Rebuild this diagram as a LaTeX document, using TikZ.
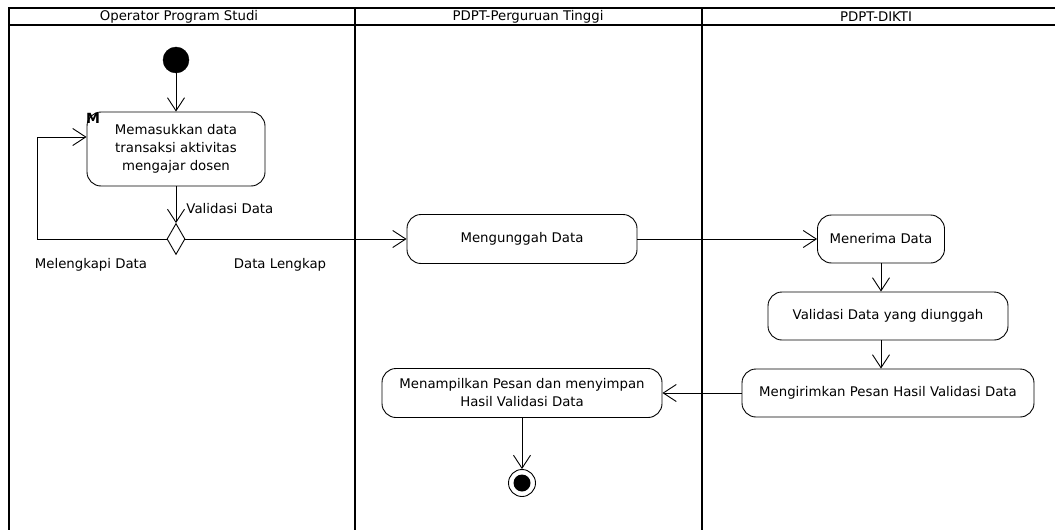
\documentclass[tikz,border=0pt]{standalone}
\usepackage{fontspec}
\setmainfont{DejaVu Sans}
\usetikzlibrary{shapes.geometric, arrows.meta, positioning}

\begin{document}
\begin{tikzpicture}[
  x=1pt, y=-1pt,
  act/.style={draw, rounded corners=14pt, align=center, inner sep=0pt, line width=0.9pt, font=\fontsize{13.3}{18}\selectfont},
  lbl/.style={inner sep=0pt, font=\fontsize{13.3}{15}\selectfont},
  flow/.style={-{Straight Barb[length=13pt, width=17pt]}, line width=0.9pt},
  lane/.style={line width=2.4pt}
]
  \useasboundingbox (0,0) rectangle (1055,530);

  % Swimlanes
  \draw[lane] (1055,8) -- (9,8) -- (9,530);
  \draw[lane] (9,25) -- (1055,25);
  \draw[lane] (355,8) -- (355,530);
  \draw[lane] (702,8) -- (702,530);
  \node[lbl] (prodi) at (179,16.5) {Operator Program Studi};
  \node[lbl] (pt) at (528,16.5) {PDPT-Perguruan Tinggi};
  \node[lbl] (dikti) at (876,16.5) {PDPT-DIKTI};

  % Operator Program Studi
  \node[draw, circle, fill=black, minimum size=26pt, inner sep=0pt] (start) at (176,60) {};
  \node[act, minimum width=178pt, minimum height=74pt] (input) at (176,149)
    {Memasukkan data\\transaksi aktivitas\\mengajar dosen};
  \node[lbl, font=\fontsize{14}{15}\selectfont\bfseries] (mark) at (93,118) {M};
  \node[draw, diamond, minimum width=18pt, minimum height=31pt, inner sep=0pt, line width=0.9pt] (cek) at (176,239) {};

  \draw[flow] (start) -- (input);
  \draw[flow] (input) -- (cek) node[lbl, pos=0.6, right=10pt] (vlabel) {Validasi Data};
  \draw[flow] (cek.west) -- ++(-129,0) |- ([yshift=12pt]input.west);
  \node[lbl] (lengkapi) at (91,265) {Melengkapi Data};
  \node[lbl] (lengkap) at (280,265) {Data Lengkap};

  % PDPT-Perguruan Tinggi
  \node[act, minimum width=230pt, minimum height=49pt] (unggah) at (522,239) {Mengunggah Data};
  \node[act, minimum width=280pt, minimum height=49pt] (tampil) at (522,393)
    {Menampilkan Pesan dan menyimpan\\Hasil Validasi Data};
  \node[draw, circle, minimum size=27pt, inner sep=0pt, line width=0.9pt] (final) at (522,483) {};
  \node[circle, fill=black, minimum size=17pt, inner sep=0pt] (finalin) at (final) {};

  \draw[flow] (cek.east) -- (unggah.west);

  % PDPT-DIKTI
  \node[act, minimum width=127pt, minimum height=48pt] (terima) at (881,239) {Menerima Data};
  \node[act, minimum width=240pt, minimum height=48pt] (validasi) at (888,316) {Validasi Data yang diunggah};
  \node[act, minimum width=292pt, minimum height=48pt] (kirim) at (888,393) {Mengirimkan Pesan Hasil Validasi Data};

  \draw[flow] (unggah.east) -- (terima.west);
  \draw[flow] (terima.south) -- (terima.south |- validasi.north);
  \draw[flow] (validasi.south -| terima.south) -- (kirim.north -| terima.south);
  \draw[flow] (kirim.west) -- (tampil.east);
  \draw[flow] (tampil.south) -- (final.north);
\end{tikzpicture}
\end{document}
